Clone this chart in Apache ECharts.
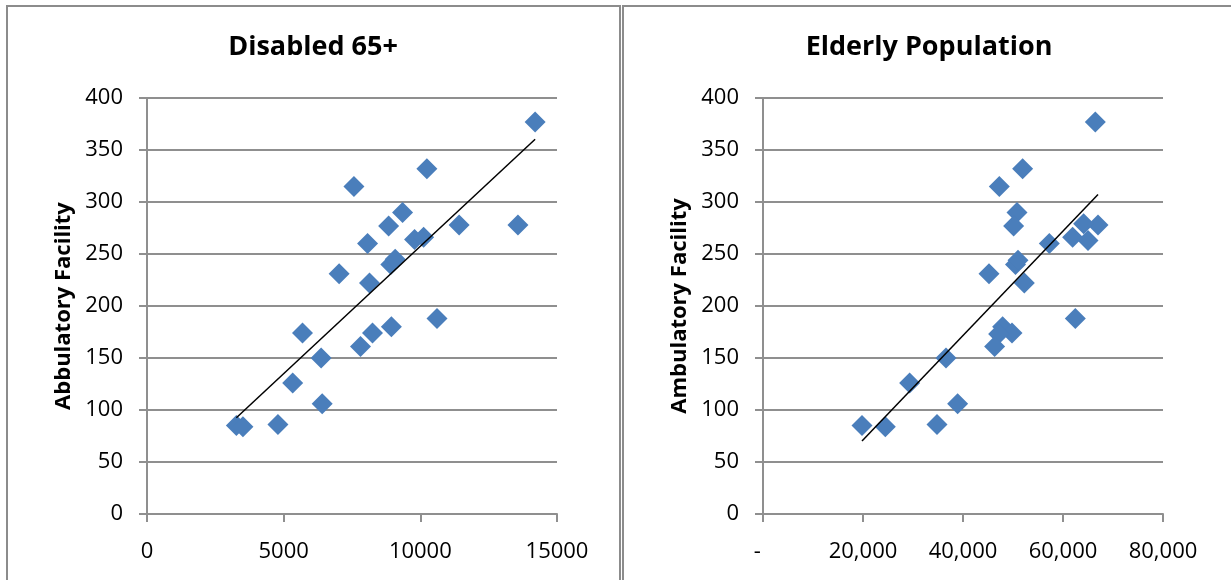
<!DOCTYPE html>
<html>
<head>
<meta charset="utf-8">
<script src="https://cdn.jsdelivr.net/npm/echarts@6/dist/echarts.min.js"></script>
<style>
  html, body { margin: 0; padding: 0; background: #ffffff; }
  #chart { width: 1231px; height: 580px; }
</style>
</head>
<body>
<div id="chart"></div>
<script>
// Disabled population aged 65+ per county vs. ambulatory facilities
const disabled65 = [14200, 10240, 7570, 9350, 8840, 11420, 13570, 9790, 10120, 8070, 8920, 9080, 7030, 8140, 10610, 5690, 8940, 8250, 7810, 6370, 5330, 6410, 4790, 3270, 3510];
const facilitiesByDisabled = [377, 332, 315, 290, 277, 278, 278, 264, 266, 260, 240, 245, 231, 222, 188, 174, 180, 174, 161, 150, 126, 106, 86, 85, 84];

// Elderly population per county vs. ambulatory facilities
const elderlyPop = [66460, 51920, 47260, 50800, 50120, 67000, 64120, 61920, 65000, 57260, 50500, 51000, 45200, 52260, 62460, 47920, 49800, 47120, 46320, 36600, 29320, 38920, 34800, 19800, 24460];
const facilitiesByElderly = [377, 332, 315, 290, 277, 278, 279, 266, 263, 260, 240, 244, 231, 222, 188, 180, 174, 173, 161, 150, 126, 106, 86, 85, 84];

const chartTitles = ['Disabled 65+', 'Elderly Population'];
const yAxisNames = ['Abbulatory Facility', 'Ambulatory Facility'];

const FONT = '"Open Sans", "Liberation Sans", sans-serif';
const GRID_GRAY = '#8f8f8f';
const POINT_BLUE = '#4a7ebb';

function pairs(xs, ys) {
  return xs.map((x, i) => [x, ys[i]]);
}

// Least-squares linear trend spanning the data's x range
function trend(xs, ys) {
  const n = xs.length;
  const mx = xs.reduce((a, b) => a + b, 0) / n;
  const my = ys.reduce((a, b) => a + b, 0) / n;
  let sxy = 0, sxx = 0;
  for (let i = 0; i < n; i++) {
    sxy += (xs[i] - mx) * (ys[i] - my);
    sxx += (xs[i] - mx) * (xs[i] - mx);
  }
  const b = sxy / sxx;
  const a = my - b * mx;
  const x0 = Math.min(...xs), x1 = Math.max(...xs);
  return [[x0, a + b * x0], [x1, a + b * x1]];
}

const labelStyle = { color: '#000', fontFamily: FONT, fontSize: 22 };

function yAxis(gridIndex, name) {
  return {
    type: 'value', gridIndex, min: 0, max: 400, interval: 50,
    name, nameLocation: 'middle', nameGap: 72, nameRotate: 90,
    nameTextStyle: { color: '#000', fontFamily: FONT, fontSize: 22, fontWeight: 'bold' },
    axisLine: { show: true, lineStyle: { color: GRID_GRAY, width: 2 } },
    axisTick: { show: true, length: 8, lineStyle: { color: GRID_GRAY, width: 2 } },
    axisLabel: Object.assign({ margin: 24 }, labelStyle),
    splitLine: { show: true, lineStyle: { color: GRID_GRAY, width: 2 } }
  };
}

function xAxis(gridIndex, max, interval, formatter) {
  return {
    type: 'value', gridIndex, min: 0, max, interval,
    axisLine: { show: true, onZero: false, lineStyle: { color: GRID_GRAY, width: 2 } },
    axisTick: { show: true, length: 8, lineStyle: { color: GRID_GRAY, width: 2 } },
    axisLabel: Object.assign({ margin: 27, formatter }, labelStyle),
    splitLine: { show: false }
  };
}

const scatterStyle = {
  type: 'scatter', symbol: 'diamond', symbolSize: 21,
  itemStyle: { color: POINT_BLUE, opacity: 1 }, z: 3
};
const trendStyle = {
  type: 'line', symbol: 'none', silent: true,
  lineStyle: { color: '#000', width: 1.5 }, z: 4
};

const titleText = { color: '#000', fontFamily: FONT, fontSize: 27, fontWeight: 'bold', lineHeight: 32 };

const chart = echarts.init(document.getElementById('chart'), null, { renderer: 'canvas' });
chart.setOption({
  backgroundColor: '#ffffff',
  animation: false,
  title: [
    { text: chartTitles[0], left: 313, top: 31, textAlign: 'center', padding: 0, textStyle: titleText },
    { text: chartTitles[1], left: 929, top: 31, textAlign: 'center', padding: 0, textStyle: titleText }
  ],
  graphic: [
    { type: 'rect', shape: { x: 7, y: 6, width: 613, height: 620 }, style: { fill: 'none', stroke: '#8c8c8c', lineWidth: 2 }, silent: true },
    { type: 'rect', shape: { x: 623, y: 6, width: 640, height: 620 }, style: { fill: 'none', stroke: '#8c8c8c', lineWidth: 2 }, silent: true }
  ],
  grid: [
    { left: 147, top: 98, width: 410, height: 416 },
    { left: 763, top: 98, width: 400, height: 416 }
  ],
  xAxis: [
    xAxis(0, 15000, 5000, v => String(v)),
    xAxis(1, 80000, 20000, v => (v === 0 ? '-  ' : v.toLocaleString('en-US')))
  ],
  yAxis: [yAxis(0, yAxisNames[0]), yAxis(1, yAxisNames[1])],
  series: [
    Object.assign({ xAxisIndex: 0, yAxisIndex: 0, data: pairs(disabled65, facilitiesByDisabled) }, scatterStyle),
    Object.assign({ xAxisIndex: 0, yAxisIndex: 0, data: trend(disabled65, facilitiesByDisabled) }, trendStyle),
    Object.assign({ xAxisIndex: 1, yAxisIndex: 1, data: pairs(elderlyPop, facilitiesByElderly) }, scatterStyle),
    Object.assign({ xAxisIndex: 1, yAxisIndex: 1, data: trend(elderlyPop, facilitiesByElderly) }, trendStyle)
  ]
});
</script>
</body>
</html>
